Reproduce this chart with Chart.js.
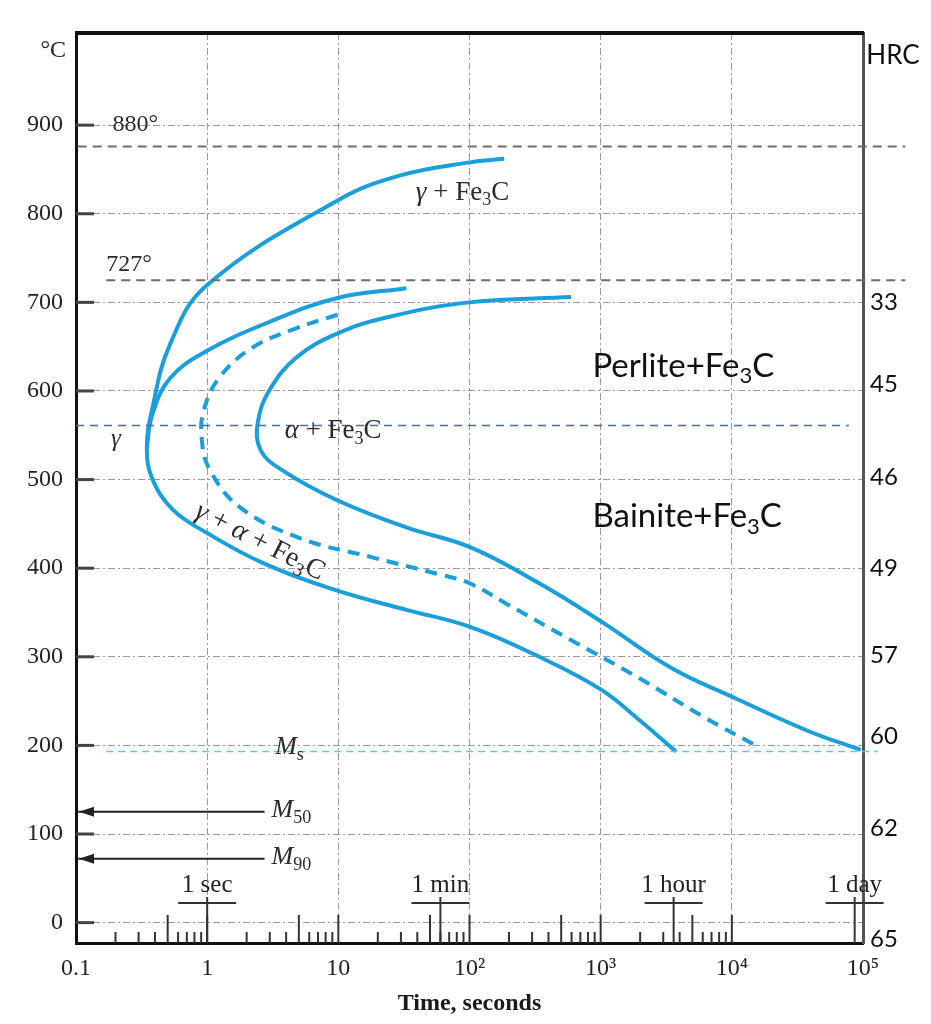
<!DOCTYPE html>
<html>
<head>
<meta charset="utf-8">
<script src="https://cdn.jsdelivr.net/npm/chart.js@4/dist/chart.umd.min.js"></script>
<style>
  html, body { margin: 0; padding: 0; background: #fff; }
</style>
</head>
<body>
<canvas id="ttt" width="931" height="1024"></canvas>
<script>
// axis ticks
const xTicks = [0.1, 1, 10, 100, 1000, 10000, 100000];
const xTickLabels = ['0.1', '1', '10', '10²', '10³', '10⁴', '10⁵'];
const yTicks = [0, 100, 200, 300, 400, 500, 600, 700, 800, 900];
const hrcTemps = [700, 608, 503, 400, 302, 210, 107, -19];
const hrcLabels = ['33', '45', '46', '49', '57', '60', '62', '65'];

// time marks under the curves
const markTimes = [1, 60, 3600, 86400];
const markLabels = ['1 sec', '1 min', '1 hour', '1 day'];

// transformation start curve (upper branch, nose, lower branch), seconds / °C
const startTime = [184, 100, 29.2, 9.86, 0.99, 0.519, 0.379, 0.347, 0.379, 0.547, 0.99, 2.65, 9.7, 33, 100, 340, 1007, 1960, 3750];
const startTemp = [862, 858, 843, 815, 719, 652, 578, 537, 502, 466, 440, 406, 375, 353, 334, 300, 263, 229, 193];

// short branch under 727°
const branchTime = [33, 9.86, 2.99, 0.99, 0.519, 0.379, 0.347];
const branchTemp = [716, 705, 678, 645, 614, 572, 537];

// 50% curve (dashed)
const halfTime = [9.86, 4.81, 2.22, 1.25, 0.941, 0.91, 1.047, 1.77, 5.07, 17.3, 58.9, 100, 190.6, 575, 1960, 6124, 16040];
const halfTemp = [686, 671, 649, 616, 578, 545, 511, 469, 434, 413, 393, 383, 360, 320, 276, 232, 198];

// finish curve
const finishTime = [595, 100, 23.3, 9.86, 4.81, 2.99, 2.43, 2.56, 3.70, 9.7, 33, 100, 340, 1007, 3494, 10350, 38560, 95900];
const finishTemp = [706, 700, 683, 665, 638, 601, 564, 533, 511, 477, 446, 424, 383, 340, 287, 254, 216, 195];

// reference lines
const acmTime = [0.103, 210000];
const acmTemp = 876;
const a1Time = [0.17, 210000];
const a1Temp = 725;
const noseTime = [0.1, 78000];
const noseTemp = 561;
const msTime = [0.17, 130000];
const msTemp = 193;
const arrowTime = [0.104, 2.74];
const m50Temp = 125;
const m90Temp = 72;

const blue = '#1a9fdc';
const pts = (ts, vs) => ts.map((t, i) => ({ x: t, y: Array.isArray(vs) ? vs[i] : vs }));

function curve(ts, vs, dashed) {
  return {
    data: pts(ts, vs), showLine: true, pointRadius: 0, borderColor: blue,
    borderWidth: 4, tension: 0.4, borderDash: dashed ? [12, 8] : [], clip: false
  };
}
function straight(ts, v, color, width, dash) {
  return {
    data: pts(ts, v), showLine: true, pointRadius: 0, borderColor: color,
    borderWidth: width, borderDash: dash, clip: false
  };
}

// draws text with _{sub} and ~{italic} parts
function drawRich(ctx, str, x, y, size, family, align) {
  const segs = [];
  const re = /([_~])\{([^}]*)\}/g;
  let last = 0, m;
  while ((m = re.exec(str))) {
    if (m.index > last) segs.push({ t: str.slice(last, m.index), k: '' });
    segs.push({ t: m[2], k: m[1] });
    last = re.lastIndex;
  }
  if (last < str.length) segs.push({ t: str.slice(last), k: '' });
  const fontFor = k => (k === '~' ? 'italic ' : '') + (k === '_' ? Math.round(size * 0.68) : size) + 'px ' + family;
  let w = 0;
  segs.forEach(s => { ctx.font = fontFor(s.k); s.w = ctx.measureText(s.t).width; w += s.w; });
  let cx = align === 'center' ? x - w / 2 : align === 'right' ? x - w : x;
  ctx.textAlign = 'left';
  ctx.textBaseline = 'middle';
  segs.forEach(s => {
    ctx.font = fontFor(s.k);
    ctx.fillText(s.t, cx, y + (s.k === '_' ? size * 0.3 : 0));
    cx += s.w;
  });
}

const serif = '"Liberation Serif", "DejaVu Serif", serif';
const sans = 'Lato, "Open Sans", sans-serif';

const notes = [
  { text: '880°', t: 0.19, T: 900, size: 24, font: serif },
  { text: '727°', t: 0.17, T: 742, size: 24, font: serif },
  { text: '~{γ} + Fe_{3}C', t: 39, T: 824, size: 27, font: serif },
  { text: '~{γ}', t: 0.185, T: 545, size: 25, font: serif },
  { text: '~{α} + Fe_{3}C', t: 3.9, T: 555, size: 27, font: serif },
  { text: '~{γ} + ~{α} + Fe_{3}C', t: 0.834, T: 466, size: 28, font: serif, rot: 27 },
  { text: '~{M}_{s}', t: 3.3, T: 198, size: 26, font: serif },
  { text: '~{M}_{50}', t: 3.1, T: 127, size: 26, font: serif },
  { text: '~{M}_{90}', t: 3.1, T: 74, size: 26, font: serif },
  { text: 'Perlite+Fe_{3}C', t: 865, T: 628, size: 33, font: sans },
  { text: 'Bainite+Fe_{3}C', t: 865, T: 458, size: 33, font: sans },
  { text: 'HRC', t: 106000, T: 979, size: 26, font: sans }
];

const decor = {
  id: 'decor',
  afterDraw(chart) {
    const ctx = chart.ctx;
    const a = chart.chartArea;
    const xs = chart.scales.x, ys = chart.scales.y;
    ctx.save();
    ctx.strokeStyle = '#111';
    ctx.lineWidth = 4;
    ctx.beginPath();
    ctx.moveTo(a.left - 1, a.top);
    ctx.lineTo(a.right + 1, a.top);
    ctx.stroke();

    // inward major ticks on the temperature axis
    ctx.strokeStyle = '#444';
    ctx.lineWidth = 3;
    yTicks.forEach(v => {
      const y = ys.getPixelForValue(v);
      ctx.beginPath(); ctx.moveTo(a.left, y); ctx.lineTo(a.left + 18, y); ctx.stroke();
    });

    // minor log ticks
    ctx.strokeStyle = '#333';
    ctx.lineWidth = 2;
    for (let d = 0; d < 5; d++) {
      const dec = xTicks[d];
      for (let k = 2; k <= 10; k++) {
        const x = xs.getPixelForValue(dec * k);
        const len = (k === 5 || k === 10) ? 28 : 11;
        ctx.beginPath(); ctx.moveTo(x, a.bottom); ctx.lineTo(x, a.bottom - len); ctx.stroke();
      }
    }

    // 1 sec / 1 min / 1 hour / 1 day marks
    ctx.fillStyle = '#222';
    markTimes.forEach((t, i) => {
      const x = xs.getPixelForValue(t);
      ctx.strokeStyle = '#333';
      ctx.lineWidth = 2;
      ctx.beginPath(); ctx.moveTo(x, a.bottom); ctx.lineTo(x, a.bottom - 46); ctx.stroke();
      ctx.beginPath(); ctx.moveTo(x - 29, a.bottom - 40); ctx.lineTo(x + 29, a.bottom - 40); ctx.stroke();
      drawRich(ctx, markLabels[i], x, a.bottom - 58, 25, serif, 'center');
    });

    // arrowheads for M50 / M90
    [m50Temp, m90Temp].forEach(v => {
      const y = ys.getPixelForValue(v);
      const x = a.left + 3;
      ctx.beginPath();
      ctx.moveTo(x, y); ctx.lineTo(x + 15, y - 5); ctx.lineTo(x + 15, y + 5); ctx.closePath();
      ctx.fill();
    });

    // labels
    notes.forEach(n => {
      const x = xs.getPixelForValue(n.t);
      const y = ys.getPixelForValue(n.T);
      ctx.fillStyle = n.font === sans ? '#111' : '#2b2b2b';
      if (n.rot) {
        ctx.save();
        ctx.translate(x, y);
        ctx.rotate(n.rot * Math.PI / 180);
        drawRich(ctx, n.text, 0, 0, n.size, n.font, 'left');
        ctx.restore();
      } else {
        drawRich(ctx, n.text, x, y, n.size, n.font, 'left');
      }
    });
    ctx.fillStyle = '#222';
    drawRich(ctx, '°C', a.left - 10, ys.getPixelForValue(984), 24, serif, 'right');
    ctx.restore();
  }
};

const gridDash = [7, 3, 2, 3];

new Chart(document.getElementById('ttt'), {
  type: 'scatter',
  data: {
    datasets: [
      straight(acmTime, acmTemp, '#6e6e6e', 2, [9, 6]),
      straight(a1Time, a1Temp, '#6e6e6e', 2, [9, 6]),
      straight(noseTime, noseTemp, '#456f9e', 1.5, [8, 6]),
      straight(msTime, msTemp, '#5ac6ea', 1.5, [7, 5]),
      straight(arrowTime, m50Temp, '#222', 2, []),
      straight(arrowTime, m90Temp, '#222', 2, []),
      curve(startTime, startTemp, false),
      curve(branchTime, branchTemp, false),
      curve(halfTime, halfTemp, true),
      curve(finishTime, finishTemp, false)
    ]
  },
  options: {
    responsive: false,
    animation: false,
    layout: { padding: { top: 33, left: 0, right: 0, bottom: 0 } },
    plugins: { legend: { display: false }, tooltip: { enabled: false } },
    scales: {
      x: {
        type: 'logarithmic',
        min: 0.1,
        max: 100000,
        afterBuildTicks: s => { s.ticks = xTicks.map(v => ({ value: v })); },
        afterFit: s => { s.height = 81; },
        ticks: {
          autoSkip: false, maxRotation: 0, padding: 11, color: '#222',
          font: { family: serif, size: 24 },
          callback: (v, i) => xTickLabels[i]
        },
        grid: { color: '#9a9a9a', lineWidth: 1, drawTicks: false },
        border: { color: '#111', width: 3, dash: gridDash },
        title: {
          display: true, text: 'Time, seconds', color: '#1a1a1a',
          font: { family: serif, size: 24, weight: 'bold' },
          padding: { top: 0, bottom: 6 }
        }
      },
      y: {
        min: -23,
        max: 1004,
        afterBuildTicks: s => { s.ticks = yTicks.map(v => ({ value: v })); },
        afterFit: s => { s.width = 76; },
        ticks: { padding: 13, color: '#222', font: { family: serif, size: 24 } },
        grid: { color: '#9a9a9a', lineWidth: 1, drawTicks: false },
        border: { color: '#111', width: 3, dash: gridDash }
      },
      y2: {
        position: 'right',
        min: -23,
        max: 1004,
        afterBuildTicks: s => { s.ticks = hrcTemps.map(v => ({ value: v })); },
        afterFit: s => { s.width = 68; },
        ticks: {
          padding: 7, color: '#111', font: { family: sans, size: 24 },
          callback: (v, i) => hrcLabels[i]
        },
        grid: { display: false, drawTicks: false },
        border: { color: '#555', width: 3 }
      }
    }
  },
  plugins: [decor]
});
</script>
</body>
</html>
